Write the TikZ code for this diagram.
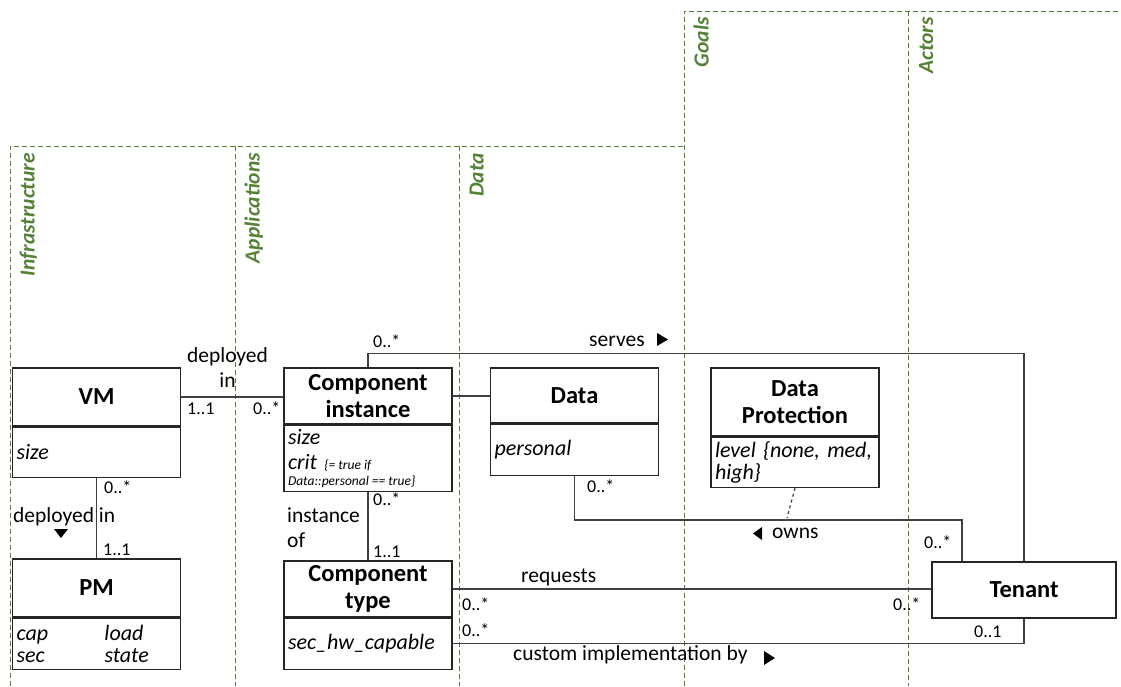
\documentclass[tikz,border=0pt]{standalone}
\usepackage{fontspec}
\setmainfont{Carlito}
\usetikzlibrary{positioning}
\definecolor{lanegreen}{RGB}{84,130,53}
\newcommand{\clsfont}{\fontsize{24.5}{27}\selectfont\bfseries}
\newcommand{\attfont}{\fontsize{22}{22}\selectfont\itshape\spaceskip=0pt\xspaceskip=0pt\relax}
\newcommand{\assocfont}{\fontsize{21.5}{25}\selectfont}
\newcommand{\multfont}{\fontsize{18}{20}\selectfont}
\newcommand{\notefont}{\fontsize{13.5}{15}\selectfont\itshape\spaceskip=0pt\xspaceskip=0pt\relax}
\newcommand{\lanefont}{\fontsize{21.5}{24}\selectfont\bfseries\itshape}
\tikzstyle{classbox} = [rectangle, draw=black!85, line width=1.3pt, minimum width=168pt, align=center, font=\clsfont, inner sep=2pt]
\tikzstyle{attrbox} = [rectangle, draw=black!85, line width=1.3pt, minimum width=168pt, text width=160pt, inner xsep=4pt, inner ysep=1pt, align=left, font=\attfont]
\tikzstyle{assoc} = [draw=black!75, line width=1.2pt]
\tikzstyle{lbl} = [inner sep=0pt, font=\assocfont, anchor=base west]
\tikzstyle{mult} = [inner sep=0pt, font=\multfont, anchor=base west]
\tikzstyle{lane} = [draw=lanegreen, line width=1pt, dash pattern=on 5pt off 3pt]
\tikzstyle{lanetitle} = [inner sep=0pt, font=\lanefont, text=lanegreen, rotate=90, anchor=base east]

\begin{document}
\begin{tikzpicture}[x=1pt, y=-1pt]
	\useasboundingbox (0,0) rectangle (1121,686);
	
	% swimlanes
	\draw[lane] (10,686) -- (10,146) -- (684,146);
	\draw[lane] (235,146) -- (235,686);
	\draw[lane] (459,146) -- (459,686);
	\draw[lane] (684,686) -- (684,11) -- (1121,11);
	\draw[lane] (908,11) -- (908,686);
	
	\node (infra) [lanetitle] at (34.5,153) {Infrastructure};
	\node (apps) [lanetitle] at (259.5,153) {Applications};
	\node (datalane) [lanetitle] at (483.5,153) {Data};
	\node (goals) [lanetitle] at (708.5,17) {Goals};
	\node (actors) [lanetitle] at (933,17) {Actors};
	
	% classes
	\node (vm) [classbox, minimum height=58pt] at (96.5,397) {VM};
	\node (vm-att) [attrbox, minimum height=50pt, below=0pt of vm] {size};
	
	\node (pm) [classbox, minimum height=58pt] at (96.5,588) {PM};
	\node (pm-att) [attrbox, minimum height=51pt, below=0pt of pm] {\makebox[88pt][l]{cap}load\\\makebox[88pt][l]{sec}state};
	
	\node (ci) [classbox, minimum height=56pt] at (368,396) {Component\\instance};
	\node (ci-att) [attrbox, minimum height=66pt, below=0pt of ci] {size\\[3pt]crit {\notefont \{= true if}\\[-6pt]{\notefont Data::personal == true\}}};
	
	\node (ct) [classbox, minimum height=56pt] at (368,589) {Component\\type};
	\node (ct-att) [attrbox, minimum height=51pt, below=0pt of ct] {sec\_hw\_capable};
	
	\node (data) [classbox, minimum height=55pt] at (574.5,395.5) {Data};
	\node (data-att) [attrbox, minimum height=51pt, below=0pt of data] {personal};
	
	\node (dp) [classbox, minimum height=68pt] at (795,402) {Data\\Protection};
	\node (dp-att) [attrbox, minimum height=50pt, below=0pt of dp] {level \{none, med,\\high\}};
	
	\node (tenant) [classbox, minimum width=184pt, minimum height=56pt] at (1024,590) {Tenant};
	
	% associations
	\draw[assoc] (vm.east) -- (vm.east -| ci.west);
	\draw[assoc] (ci.east) -- (ci.east -| data.west);
	\draw[assoc] (vm-att.south) -- (pm.north);
	\draw[assoc] (ci-att.south) -- (ct.north);
	\draw[assoc] (ci.north) -- ++(0,-14) -| (tenant.north);
	\draw[assoc] (data-att.south) -- ++(0,44) -| ([xshift=-62pt]tenant.north);
	\draw[assoc] (ct.east) -- (ct.east -| tenant.west);
	\draw[assoc] (ct-att.east) -| (tenant.south);
	\coordinate (ownsmid) at (787,518);
	\draw[assoc, dashed] (dp-att.south) -- (ownsmid);
	
	% labels and multiplicities
	\node (depl1) [inner sep=0pt, font=\assocfont, align=center, anchor=north] at (227.5,347) {deployed\\in};
	\node (m-vm1) [mult] at (187,414) {1..1};
	\node (m-ci1) [mult] at (253,414) {0..*};
	
	\node (m-vm2) [mult] at (104,493) {0..*};
	\node (depl2) [lbl] at (13,522) {deployed in};
	\fill (54,529) -- (68,529) -- (61,538) -- cycle;
	\node (m-pm) [mult] at (103,555) {1..1};
	
	\node (m-ci2) [mult] at (373,505) {0..*};
	\node (inst) [inner sep=0pt, font=\assocfont, align=left, anchor=north west] at (287,507) {instance\\of};
	\node (m-ct1) [mult] at (373,557) {1..1};
	
	\node (m-ci3) [mult] at (373,347) {0..*};
	\node (serves) [lbl] at (589,346) {serves};
	\fill (657,333) -- (668,339.5) -- (657,346) -- cycle;
	
	\node (m-data) [mult] at (587,492) {0..*};
	\fill (762,527) -- (753,533.5) -- (762,540) -- cycle;
	\node (owns) [lbl] at (772,538) {owns};
	\node (m-ten1) [mult] at (924,548) {0..*};
	
	\node (req) [lbl] at (521,582) {requests};
	\node (m-ct2) [mult] at (462,610) {0..*};
	\node (m-ten2) [mult] at (893,610) {0..*};
	
	\node (m-ct3) [mult] at (462,636) {0..*};
	\node (m-ten3) [mult] at (974,637) {0..1};
	\node (custom) [lbl] at (513,660) {custom implementation by};
	\fill (764,651) -- (775,658) -- (764,665) -- cycle;
	
\end{tikzpicture}
\end{document}
